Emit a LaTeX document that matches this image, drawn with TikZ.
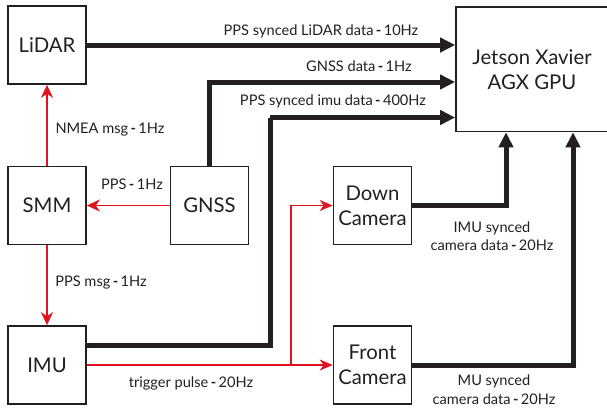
\documentclass[tikz,border=0pt]{standalone}
\usepackage{fontspec}
\setmainfont{Lato}
\usetikzlibrary{arrows.meta,calc}
\definecolor{ink}{RGB}{35,31,32}
\definecolor{sig}{RGB}{226,18,30}
\tikzset{
  box/.style={draw=ink,line width=1.6pt,minimum width=78pt,minimum height=78pt,inner sep=0pt,align=center,
              font=\fontsize{20.3}{25}\selectfont,text=ink},
  data/.style={draw=ink,line width=5pt,-{Triangle[length=15pt,width=15pt,angle'=50]},line join=miter},
  dataline/.style={draw=ink,line width=5pt,line join=miter},
  ctrl/.style={draw=sig,line width=1.8pt,-{Stealth[length=13pt,width=12pt,inset=4pt]}},
  trig/.style={draw=sig,line width=1.1pt,-{Stealth[length=13pt,width=11pt,inset=4pt]}},
  lbl/.style={font=\fontsize{14.6}{18.5}\selectfont,text=ink,inner sep=0pt,align=center}
}
\newcommand{\dsh}{\,\textbf{-}\,}
\begin{document}
\begin{tikzpicture}[x=1pt,y=-1pt]
\useasboundingbox (0,0) rectangle (607,408);
\begin{scope}
\clip (0,0) rectangle (607,408);

% boxes
\node[box] (lidar) at (47,45) {LiDAR};
\node[box] (smm) at (47,205.5) {SMM};
\node[box] (gnss) at (209.5,205.5) {GNSS};
\node[box] (imu) at (47,365) {IMU};
\node[box] (down) at (372.5,205.5) {Down\\Camera};
\node[box] (front) at (372.5,365) {Front\\Camera};
\node[box,minimum width=152pt,minimum height=124.5pt] (jetson) at (532,69.2) {Jetson Xavier\\AGX GPU};

% bend points of the data links
\coordinate (g1) at (0,82);
\coordinate (i1) at (270,117.5);
\coordinate (i2) at (270,345);
\coordinate (d1) at (506,0);
\coordinate (f1) at (573,0);
\coordinate (tb) at (291,365);

% data links into the GPU
\draw[data] (lidar.east) -- (lidar.east -| jetson.west);
\draw[data] (gnss.north) |- (jetson.west |- g1);
\draw[dataline] (imu.east |- i2) -- (i2) -- (i1);
\draw[data] (i1) -- (jetson.west |- i1);
\draw[data] (down.east) -| (jetson.south -| d1);
\draw[data] (front.east) -| (jetson.south -| f1);

% timing signals
\draw[ctrl] (smm.north) -- (lidar.south);
\draw[ctrl] (gnss.west) -- (smm.east);
\draw[ctrl] (smm.south) -- (imu.north);
\draw[trig] (imu.east) -- (front.west);
\draw[trig] (tb) |- (down.west);
\end{scope}

% labels
\node[lbl] (l1) at (321,31) {PPS synced LiDAR data\dsh 10Hz};
\node[lbl] (l2) at (359,66) {GNSS data\dsh 1Hz};
\node[lbl] (l3) at (333,101) {PPS synced imu data\dsh 400Hz};
\node[lbl] (l4) at (110,130) {NMEA msg\dsh 1Hz};
\node[lbl] (l5) at (132,184) {PPS\dsh 1Hz};
\node[lbl] (l6) at (101,283) {PPS msg\dsh 1Hz};
\node[lbl] (l7) at (191,383) {trigger pulse\dsh 20Hz};
\node[lbl] (l8) at (492,236) {IMU synced\\camera data\dsh 20Hz};
\node[lbl] (l9) at (494,389.5) {MU synced\\camera data\dsh 20Hz};
\end{tikzpicture}
\end{document}
